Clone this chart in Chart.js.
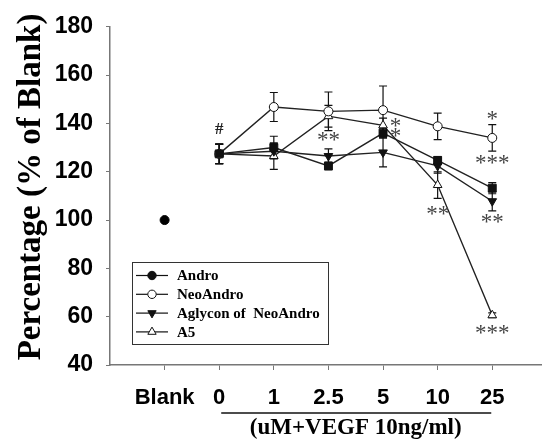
<!DOCTYPE html>
<html lang="en">
<head>
<meta charset="UTF-8">
<title>Percentage (% of Blank)</title>
<script src="https://cdn.jsdelivr.net/npm/chart.js@4.4.2/dist/chart.umd.min.js"></script>
<style>
    html, body { margin: 0; padding: 0; background: #fff; }
    #wrap { width: 548px; height: 439px; }
</style>
</head>
<body>
<div id="wrap"><canvas id="chart" width="548" height="439"></canvas></div>
<script>
// --- chart data ---
const categories = ['Blank', '0', '1', '2.5', '5', '10', '25'];
const doseIndex = [1, 2, 3, 4, 5, 6];          // position of each dose on the x axis
const blankValue = 100;

const seriesNames = ['Andro', 'NeoAndro', 'Aglycon of  NeoAndro', 'A5'];
const andro       = [127.4, 130.0, 122.4, 136.0, 124.7, 113.2];
const androErr    = [4, 4.7, 1.5, 2, 1.5, 2.3];
const neoAndro    = [127.4, 146.8, 145.0, 145.5, 138.8, 134.0];
const neoAndroErr = [4, 6, 8, 10, 5.5, 5.5];
const aglycon     = [127.4, 128.5, 126.5, 128.0, 122.4, 107.8];
const aglyconErr  = [4, 3, 3, 6, 3, 4];
const a5          = [127.4, 126.5, 143.0, 139.2, 114.5, 60.6];
const a5Err       = [4, 5.5, 4.5, 3, 5.5, 1];

const yTicks = [40, 60, 80, 100, 120, 140, 160, 180];

// significance marks: x position on the dose axis, y value, text
const marks = [
    { x: 1,    y: 137.6, text: '#' },
    { x: 3,    y: 134.7, text: '**' },
    { x: 4.23, y: 140.6, text: '*' },
    { x: 4.23, y: 136.5, text: '*' },
    { x: 5,    y: 104.2, text: '**' },
    { x: 6,    y: 143.4, text: '*' },
    { x: 6,    y: 125.3, text: '***' },
    { x: 6,    y: 101.0, text: '**' },
    { x: 6,    y: 54.8,  text: '***' }
];

const xTitle = '(uM+VEGF 10ng/ml)';
const yTitle = 'Percentage (% of Blank)';

const toPoints = vals => vals.map((v, i) => ({ x: doseIndex[i], y: v }));

// marker looks, used for the plot and for the legend
const markerStyles = [
    { shape: 'rect', legendShape: 'circle', fill: '#111', radius: 5.6, rotation: 0 },
    { shape: 'circle', legendShape: 'circle', fill: '#fff', radius: 4.5, rotation: 0 },
    { shape: 'triangle', legendShape: 'triangle', fill: '#111', radius: 5, rotation: 180 },
    { shape: 'triangle', legendShape: 'triangle', fill: '#fff', radius: 5, rotation: 0 }
];
const seriesValues = [andro, neoAndro, aglycon, a5];
const seriesErrors = [androErr, neoAndroErr, aglyconErr, a5Err];

function drawMarker(ctx, shape, fill, r, rotation, x, y) {
    ctx.save();
    ctx.fillStyle = fill;
    ctx.strokeStyle = '#111';
    ctx.lineWidth = 1;
    ctx.beginPath();
    if (shape === 'circle') {
        ctx.arc(x, y, r, 0, Math.PI * 2);
    } else if (shape === 'rect') {
        const s = r * Math.SQRT1_2;
        ctx.rect(x - s, y - s, 2 * s, 2 * s);
    } else {
        let a = rotation * Math.PI / 180;
        ctx.moveTo(x + Math.sin(a) * r, y - Math.cos(a) * r);
        a += 2 * Math.PI / 3;
        ctx.lineTo(x + Math.sin(a) * r, y - Math.cos(a) * r);
        a += 2 * Math.PI / 3;
        ctx.lineTo(x + Math.sin(a) * r, y - Math.cos(a) * r);
        ctx.closePath();
    }
    ctx.fill();
    ctx.stroke();
    ctx.restore();
}

// error bars go under the markers
const errorBarPlugin = {
    id: 'errorBars',
    beforeDatasetsDraw(chart) {
        const ctx = chart.ctx, xs = chart.scales.x, ys = chart.scales.y;
        ctx.save();
        ctx.strokeStyle = '#111';
        ctx.lineWidth = 1.2;
        seriesValues.forEach((vals, s) => {
            vals.forEach((v, i) => {
                const px = xs.getPixelForValue(doseIndex[i]);
                const top = ys.getPixelForValue(v + seriesErrors[s][i]);
                const bot = ys.getPixelForValue(v - seriesErrors[s][i]);
                ctx.beginPath();
                ctx.moveTo(px, top); ctx.lineTo(px, bot);
                ctx.moveTo(px - 4, top); ctx.lineTo(px + 4, top);
                ctx.moveTo(px - 4, bot); ctx.lineTo(px + 4, bot);
                ctx.stroke();
            });
        });
        ctx.restore();
    }
};

// titles, significance marks, legend box
const decorPlugin = {
    id: 'decor',
    afterDraw(chart) {
        const ctx = chart.ctx, xs = chart.scales.x, ys = chart.scales.y;
        ctx.save();

        // y title
        ctx.save();
        ctx.translate(31, 187);
        ctx.rotate(-Math.PI / 2);
        ctx.font = 'bold 33px "Liberation Serif", "Times New Roman", serif';
        ctx.fillStyle = '#000';
        ctx.textAlign = 'center';
        ctx.textBaseline = 'middle';
        ctx.fillText(yTitle, 0, 0);
        ctx.restore();

        // bracket line under the dose labels and the x title
        const x0 = xs.getPixelForValue(1), x1 = xs.getPixelForValue(6);
        ctx.strokeStyle = '#111';
        ctx.lineWidth = 1.5;
        ctx.beginPath();
        ctx.moveTo(x0 + 2, 413); ctx.lineTo(x1 - 1, 413);
        ctx.stroke();
        ctx.font = 'bold 23px "Liberation Serif", "Times New Roman", serif';
        ctx.fillStyle = '#000';
        ctx.textAlign = 'center';
        ctx.textBaseline = 'middle';
        ctx.fillText(xTitle, (x0 + x1) / 2, 428);

        // significance marks
        marks.forEach(m => {
            const px = xs.getPixelForValue(m.x);
            const py = ys.getPixelForValue(m.y);
            if (m.text === '#') {
                ctx.font = 'bold 17px "Liberation Serif", serif';
                ctx.fillStyle = '#222';
                ctx.textBaseline = 'middle';
                ctx.fillText(m.text, px, py);
            } else {
                ctx.font = '23px "Liberation Serif", serif';
                ctx.fillStyle = '#444';
                ctx.textBaseline = 'alphabetic';
                ctx.fillText(m.text, px, py + 11);
            }
        });

        // legend
        ctx.strokeStyle = '#333';
        ctx.lineWidth = 1;
        ctx.strokeRect(132.5, 262.5, 196, 82);
        ctx.font = 'bold 15px "Liberation Serif", "Times New Roman", serif';
        ctx.textAlign = 'left';
        ctx.textBaseline = 'middle';
        seriesNames.forEach((name, i) => {
            const ly = 275.5 + i * 18.8;
            ctx.strokeStyle = '#111';
            ctx.lineWidth = 1.2;
            ctx.beginPath();
            ctx.moveTo(136, ly); ctx.lineTo(168, ly);
            ctx.stroke();
            const st = markerStyles[i];
            drawMarker(ctx, st.legendShape, st.fill, st.legendShape === 'circle' ? 4.2 : 4.8, st.rotation, 152, ly);
            ctx.fillStyle = '#000';
            ctx.fillText(name, 177, ly + 1);
        });

        ctx.restore();
    }
};

const datasets = seriesValues.map((vals, i) => ({
    label: seriesNames[i],
    data: toPoints(vals),
    borderColor: '#222',
    borderWidth: 1.4,
    pointStyle: markerStyles[i].shape,
    pointRotation: markerStyles[i].rotation,
    pointRadius: markerStyles[i].radius,
    pointBackgroundColor: markerStyles[i].fill,
    pointBorderColor: '#111',
    pointBorderWidth: 1,
    tension: 0,
    fill: false
}));
datasets.push({
    label: 'Blank',
    data: [{ x: 0, y: blankValue }],
    showLine: false,
    pointStyle: 'circle',
    pointRadius: 4.5,
    pointBackgroundColor: '#000',
    pointBorderColor: '#000'
});

new Chart(document.getElementById('chart'), {
    type: 'line',
    data: { datasets },
    options: {
        responsive: false,
        animation: false,
        layout: { padding: { top: 25, right: 0, left: 0, bottom: 0 } },
        plugins: { legend: { display: false }, tooltip: { enabled: false } },
        scales: {
            x: {
                type: 'linear',
                min: -1,
                max: 6.9,
                afterFit: s => { s.height = 74; },
                afterBuildTicks: s => {
                    s.ticks = categories.map((c, i) => ({ value: i }));
                },
                ticks: {
                    callback: v => categories[v] ?? '',
                    color: '#000',
                    font: { family: '"Liberation Sans", Arial, sans-serif', size: 22, weight: 'bold' },
                    padding: 15,
                    maxRotation: 0,
                    autoSkip: false
                },
                grid: { drawOnChartArea: false, tickLength: 5, color: '#777', tickWidth: 1 },
                border: { color: '#777', width: 1.5 }
            },
            y: {
                min: 40,
                max: 180,
                afterFit: s => { s.width = 110; },
                afterBuildTicks: s => {
                    s.ticks = yTicks.map(v => ({ value: v }));
                },
                ticks: {
                    color: '#000',
                    font: { family: '"Liberation Sans", Arial, sans-serif', size: 23, weight: 'bold' },
                    padding: 13
                },
                grid: { drawOnChartArea: false, tickLength: 4, color: '#777', tickWidth: 1 },
                border: { color: '#777', width: 1.5 }
            }
        }
    },
    plugins: [errorBarPlugin, decorPlugin]
});
</script>
</body>
</html>
